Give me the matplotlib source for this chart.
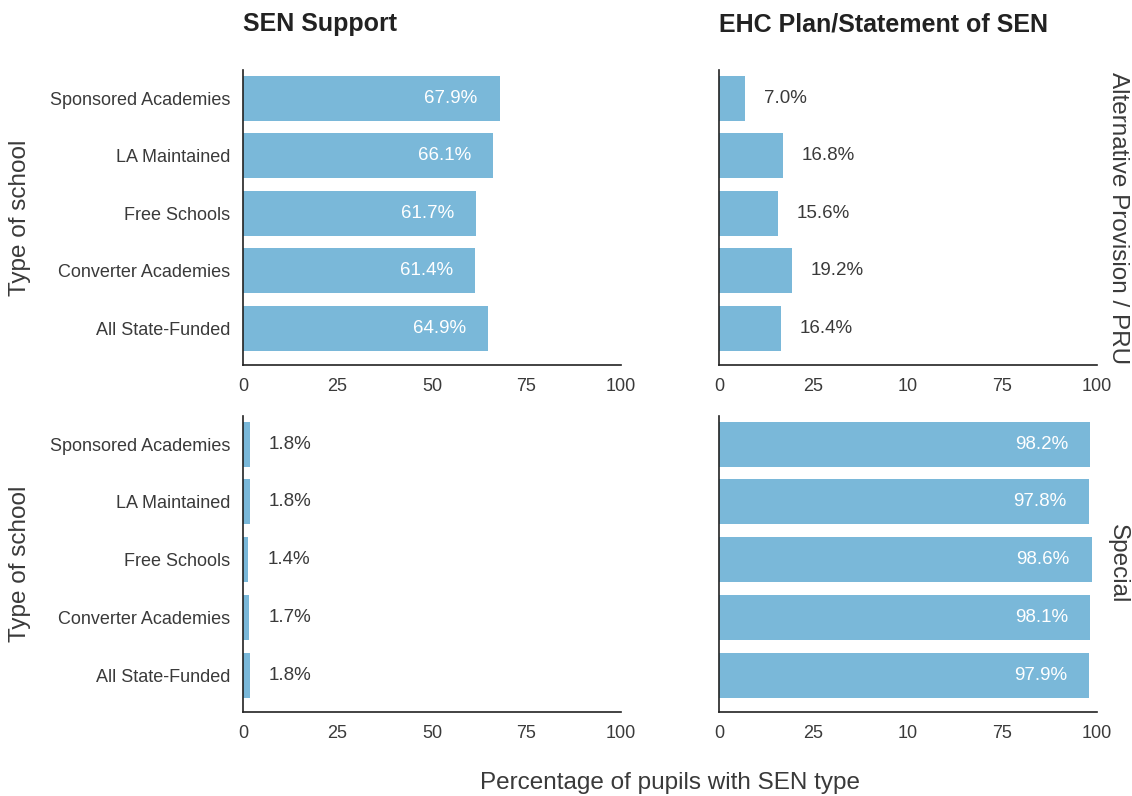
import matplotlib.pyplot as plt
import numpy as np

plt.rcParams['font.family'] = ['Liberation Sans', 'DejaVu Sans']

# school types, listed top to bottom as in the chart
schools = ['Sponsored Academies', 'LA Maintained', 'Free Schools',
           'Converter Academies', 'All State-Funded']
columns = ['SEN Support', 'EHC Plan/Statement of SEN']
rows = ['Alternative Provision / PRU', 'Special']

# percentages, same order as schools
ap_support = [67.9, 66.1, 61.7, 61.4, 64.9]
ap_ehc = [7.0, 16.8, 15.6, 19.2, 16.4]
sp_support = [1.8, 1.8, 1.4, 1.7, 1.8]
sp_ehc = [98.2, 97.8, 98.6, 98.1, 97.9]

xticks = [0, 25, 50, 75, 100]
xticklabels_left = ['0', '25', '50', '75', '100']
xticklabels_right = ['0', '25', '10', '75', '100']

bar_col = '#7ab8d9'
txt_col = '#3a3a3a'

fig = plt.figure(figsize=(11.32, 7.96), dpi=100)
W, H = 1132., 796.

def make_ax(x0, x1, ytop, ybot):
    return fig.add_axes([x0 / W, 1 - ybot / H, (x1 - x0) / W, (ybot - ytop) / H])

panels = [
    (make_ax(243, 621, 70, 365), ap_support, True, xticklabels_left),
    (make_ax(719, 1097, 70, 365), ap_ehc, False, xticklabels_right),
    (make_ax(243, 621, 416, 712), sp_support, True, xticklabels_left),
    (make_ax(719, 1097, 416, 712), sp_ehc, False, xticklabels_right),
]

for ax, vals, show_y, xlabs in panels:
    ypos = np.arange(len(schools))[::-1]
    ax.barh(ypos, vals, height=0.78, color=bar_col)
    for y, v in zip(ypos, vals):
        if v > 50:
            ax.text(v - 5.8, y, '%.1f%%' % v, color='white', ha='right',
                    va='center', fontsize=13.5)
        else:
            ax.text(v + 5.0, y, '%.1f%%' % v, color=txt_col, ha='left',
                    va='center', fontsize=13.5)
    ax.set_xlim(0, 100)
    ax.set_ylim(-0.64, 4.49)
    ax.set_xticks(xticks)
    ax.set_xticklabels(xlabs)
    ax.set_yticks(ypos)
    ax.set_yticklabels(schools if show_y else [])
    ax.tick_params(length=0, labelsize=13, labelcolor=txt_col, pad=9)
    for s in ['top', 'right']:
        ax.spines[s].set_visible(False)
    for s in ['left', 'bottom']:
        ax.spines[s].set_color('#222222')
        ax.spines[s].set_linewidth(1.2)

panels[0][0].set_title(columns[0], loc='left', fontsize=18, fontweight='bold',
                       color='#222222', pad=28)
panels[1][0].set_title(columns[1], loc='left', fontsize=18, fontweight='bold',
                       color='#222222', pad=28)

fig.text(20 / W, 1 - 218 / H, 'Type of school', rotation=90, ha='center',
         va='center', fontsize=17.5, color=txt_col)
fig.text(20 / W, 1 - 564 / H, 'Type of school', rotation=90, ha='center',
         va='center', fontsize=17.5, color=txt_col)
fig.text(1118 / W, 1 - 218 / H, rows[0], rotation=-90, ha='center',
         va='center', fontsize=17.5, color=txt_col)
fig.text(1118 / W, 1 - 564 / H, rows[1], rotation=-90, ha='center',
         va='center', fontsize=17.5, color=txt_col)
fig.text(670 / W, 1 - 783 / H, 'Percentage of pupils with SEN type',
         ha='center', va='center', fontsize=17.5, color=txt_col)

fig.savefig('out.png', dpi=100)
